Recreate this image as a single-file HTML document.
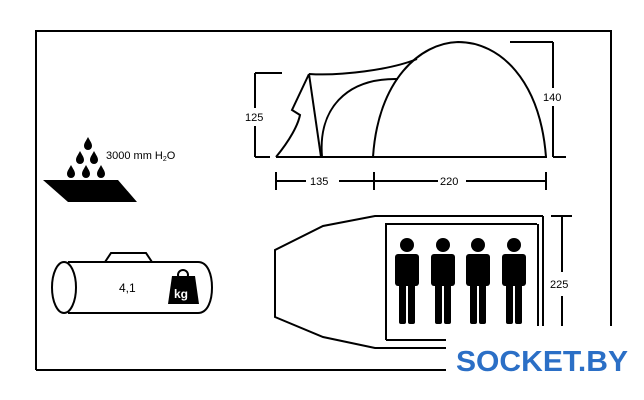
<!DOCTYPE html>
<html><head><style>body{margin:0;background:#fff}svg{display:block}</style></head><body>
<svg width="644" height="400" viewBox="0 0 644 400" xmlns="http://www.w3.org/2000/svg" font-family="Liberation Sans, DejaVu Sans, sans-serif">
<g fill="none" stroke="#000" stroke-width="2">
<path d="M36 370V31H611V326"/>
<path d="M36 370H446"/>
<!-- tent side -->
<path d="M276 157H547"/>
<path d="M373 157C378 80 420 43 458 42C500 42 540 80 546 157"/>
<path d="M322 157C318 110 345 78 398 79"/>
<path d="M309 74L321 157"/>
<path d="M309 74C340 76 390 70 417 59"/>
<path d="M276 157C290 140 298 125 300 115L292 110L309 74"/>
<path d="M255 73V108M255 126V157M255 73H282M255 157H270"/>
<path d="M553 42V88M553 106V157M510 42H553M553 157H566"/>
<path d="M276 172V190M374 172V190M546 172V190M276 181H306M339 181H374M374 181H438M466 181H546"/>
<!-- floor plan -->
<path d="M543 216H375L323 226L275 250V317L323 337L375 348H446"/>
<path d="M543 216V326M538 224V326"/>
<path d="M386 340V224H537"/>
<path d="M386 340H446"/>
<path d="M562 216V272M562 296V326M551 216H572"/>
<!-- bag -->
<path d="M68 262H198M68 313H198"/>
<ellipse cx="64" cy="287.5" rx="12" ry="25.5"/>
<path d="M198 262C208 262 212 275 212 287.5C212 300 208 313 198 313"/>
<path d="M105 262L111 253H146L152 262"/>
</g>
<g font-size="11" fill="#000">
<text x="245" y="121">125</text>
<text x="543" y="101">140</text>
<text x="310" y="185">135</text>
<text x="440" y="185">220</text>
<text x="550" y="288">225</text>
<text x="106" y="159">3000 mm H<tspan font-size="7" dy="2">2</tspan><tspan dy="-2">O</tspan></text>
<text x="119" y="292" font-size="12">4,1</text>
</g>
<polygon points="43,180 118,180 137,202 68,202" fill="#000"/>
<g fill="#000">
<path d="M88 137c-2 4-4 6-4 9a4 4 0 0 0 8 0c0-3-2-5-4-9z"/>
<path d="M80 151c-2 4-4 6-4 9a4 4 0 0 0 8 0c0-3-2-5-4-9z"/>
<path d="M94 151c-2 4-4 6-4 9a4 4 0 0 0 8 0c0-3-2-5-4-9z"/>
<path d="M71 165c-2 4-4 6-4 9a4 4 0 0 0 8 0c0-3-2-5-4-9z"/>
<path d="M86 165c-2 4-4 6-4 9a4 4 0 0 0 8 0c0-3-2-5-4-9z"/>
<path d="M101 165c-2 4-4 6-4 9a4 4 0 0 0 8 0c0-3-2-5-4-9z"/>
<path d="M172 276h23l4 28h-31z"/>
</g>
<circle cx="183" cy="275" r="5" fill="none" stroke="#000" stroke-width="2"/>
<text x="174" y="298" font-size="12" font-weight="bold" fill="#fff">kg</text>
<g fill="#000">
<g id="p">
<circle cx="407" cy="245" r="7"/>
<rect x="395" y="254" width="24" height="32" rx="3"/>
<rect x="399" y="280" width="7" height="44" rx="2"/>
<rect x="408" y="280" width="7" height="44" rx="2"/>
</g>
<use href="#p" x="36"/>
<use href="#p" x="71"/>
<use href="#p" x="107"/>
</g>
<rect x="446" y="326" width="198" height="74" fill="#fff"/>
<text x="456" y="371" font-size="29" font-weight="bold" fill="#2b6fc6" textLength="172" lengthAdjust="spacingAndGlyphs">SOCKET.BY</text>
</svg>
</body></html>
